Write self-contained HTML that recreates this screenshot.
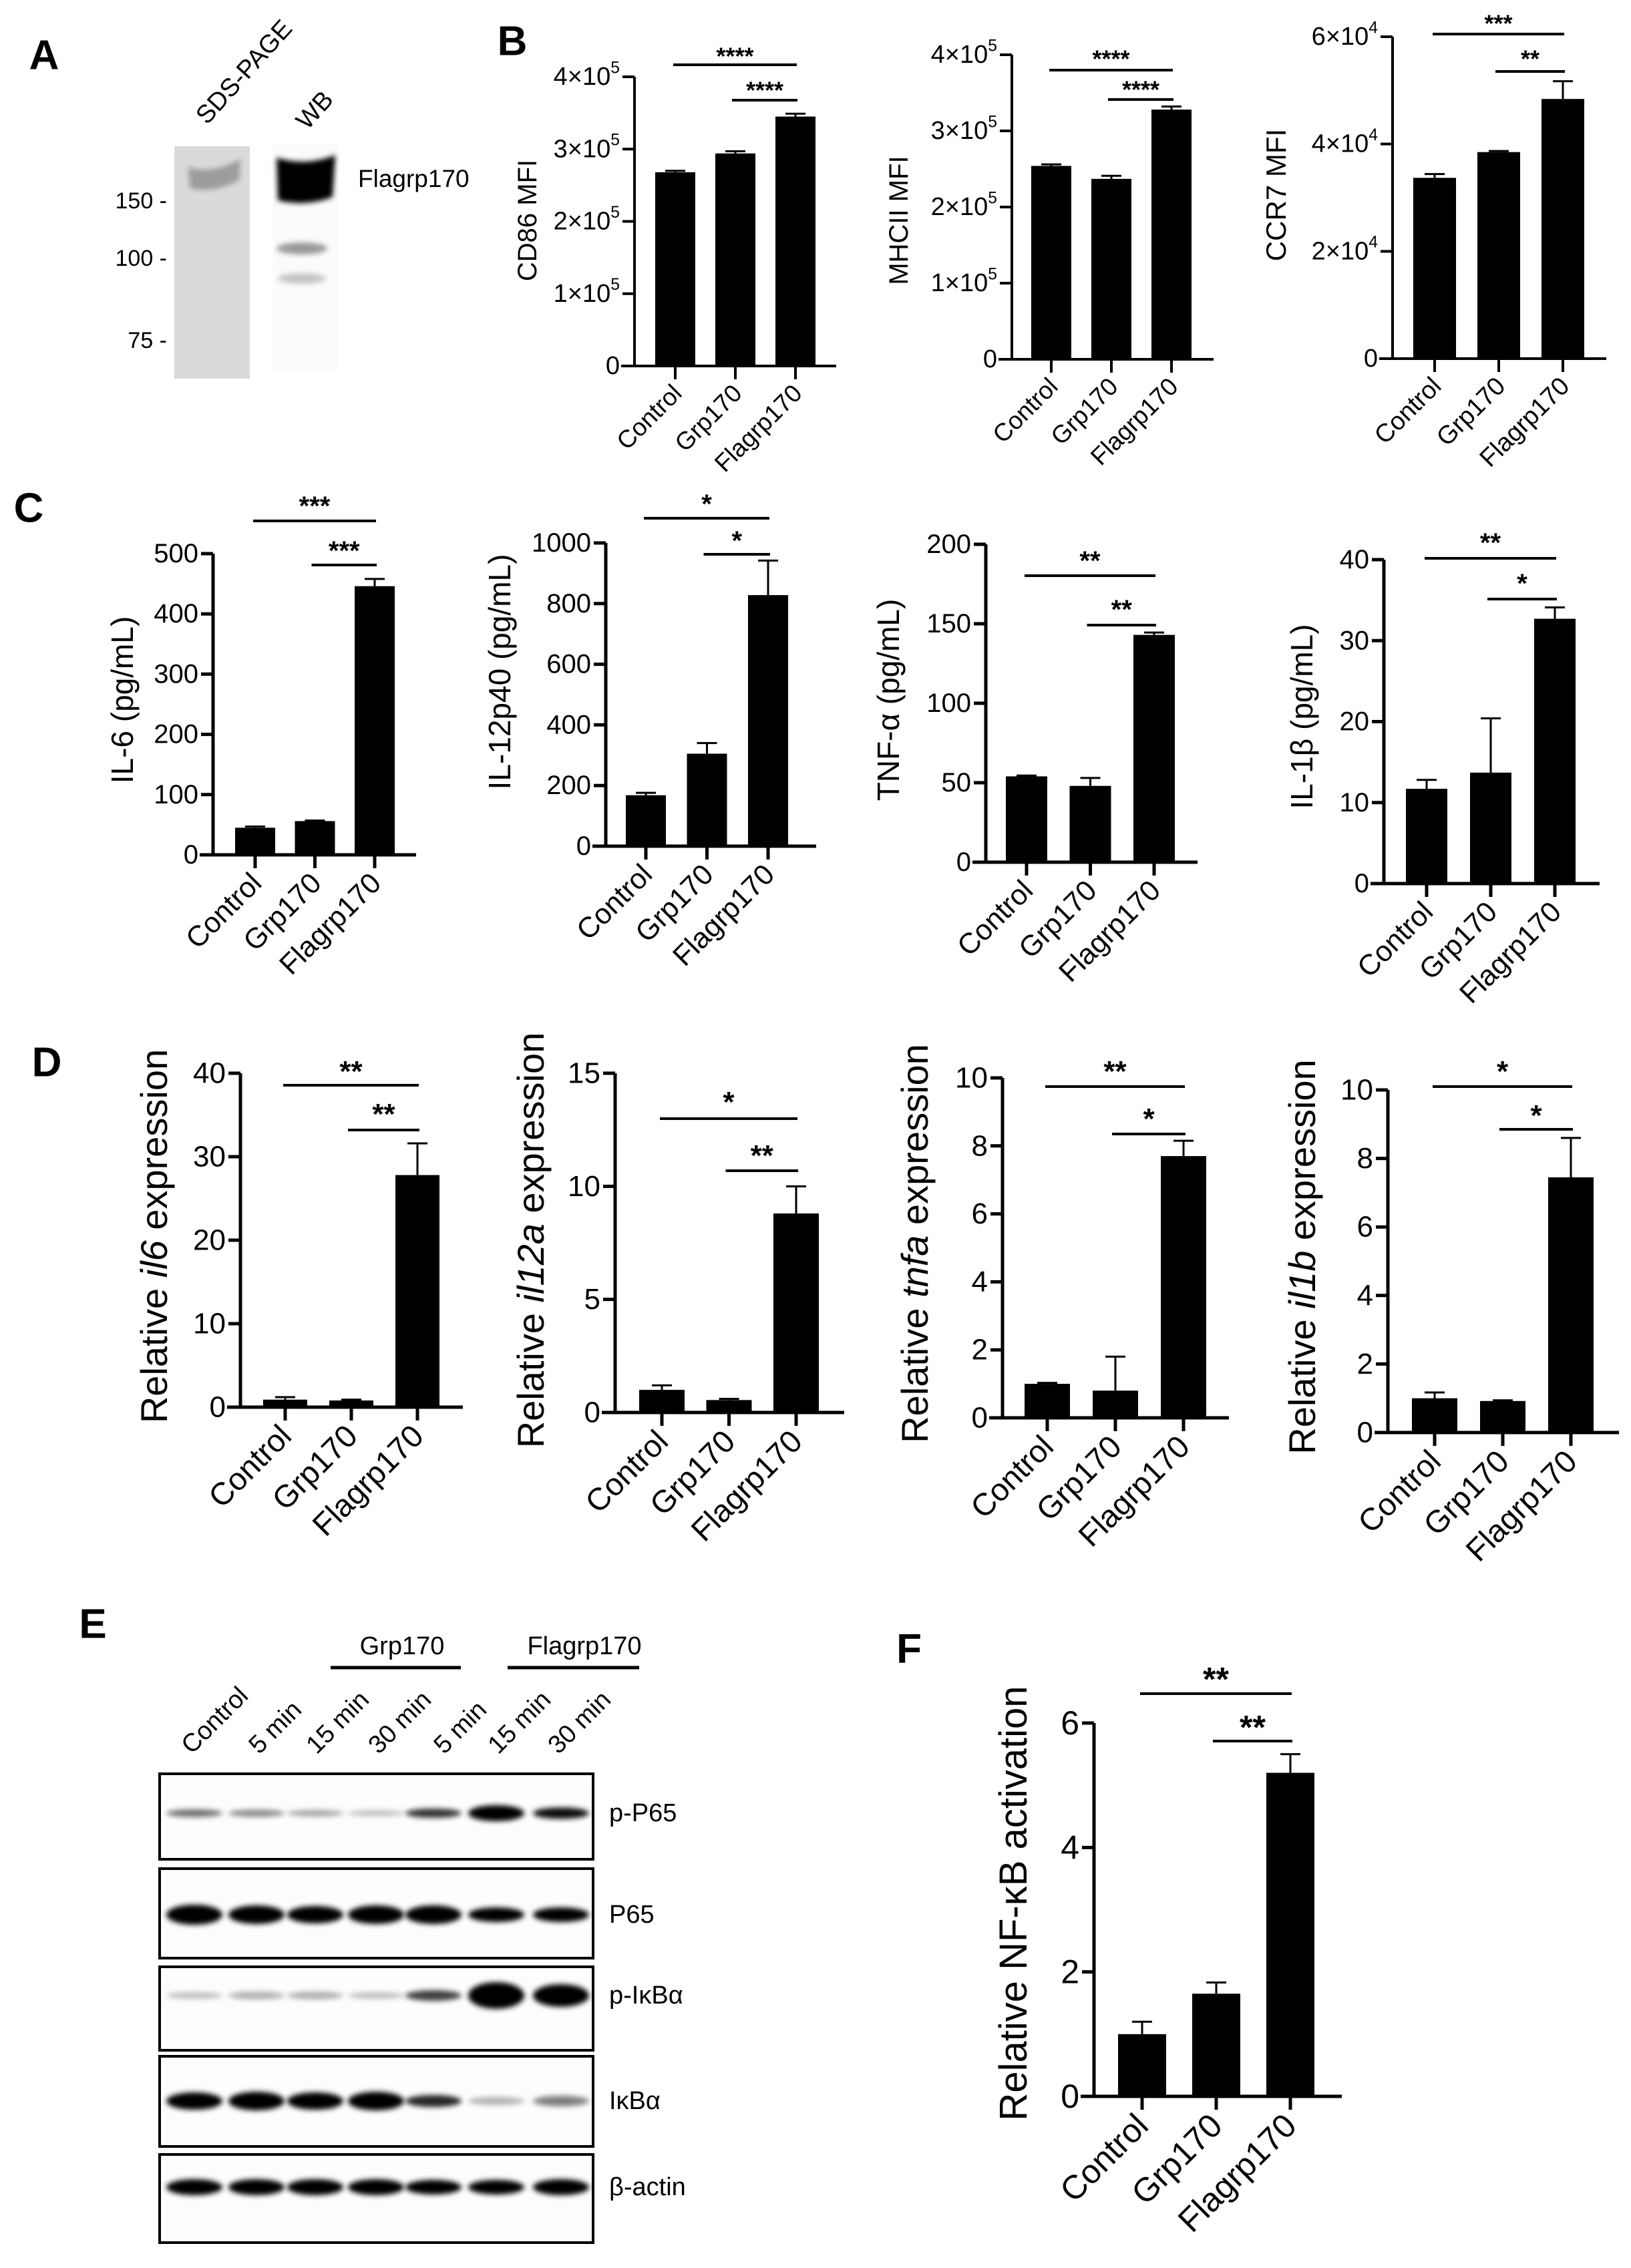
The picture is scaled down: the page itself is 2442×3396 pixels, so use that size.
<!DOCTYPE html>
<html><head><meta charset="utf-8">
<style>
html,body{margin:0;padding:0;background:#fff;}
svg{display:block;font-family:"Liberation Sans",Arial,sans-serif;}
</style></head>
<body>
<svg id="fig" xmlns="http://www.w3.org/2000/svg" width="2442" height="3396" viewBox="0 0 2442 3396">
<defs>
<filter id="blur4" x="-50%" y="-100%" width="200%" height="300%"><feGaussianBlur stdDeviation="4"/></filter>
<filter id="blur8" x="-50%" y="-100%" width="200%" height="300%"><feGaussianBlur stdDeviation="8"/></filter>
</defs>
<rect width="2442" height="3396" fill="#fff"/>

<!-- Panel A -->
<g>
<text x="66" y="83" font-size="62" font-weight="bold" text-anchor="middle" dominant-baseline="central">A</text>
<text transform="translate(310,188) rotate(-48)" font-size="38">SDS-PAGE</text>
<text transform="translate(460,196) rotate(-48)" font-size="38">WB</text>
<rect x="261" y="219" width="113" height="348" fill="#dadada"/>
<path d="M282,250 Q318,262 360,238 L358,270 Q320,290 284,282 Z" fill="#9c9c9c" filter="url(#blur4)"/>
<rect x="409" y="215" width="97" height="340" fill="#fbfbfb"/>
<path d="M414,236 Q458,250 502,232 L498,295 Q458,310 416,300 Z" fill="#000" filter="url(#blur4)"/>
<ellipse cx="452" cy="372" rx="38" ry="9" fill="#999" filter="url(#blur4)"/>
<ellipse cx="452" cy="417" rx="36" ry="8" fill="#c4c4c4" filter="url(#blur4)"/>
<text x="536" y="280" font-size="37">Flagrp170</text>
<g font-size="34" text-anchor="end">
<text x="250" y="312">150 -</text>
<text x="250" y="398">100 -</text>
<text x="250" y="521">75 -</text>
</g>
</g>

<text x="767" y="62" font-size="62" font-weight="bold" text-anchor="middle" dominant-baseline="central">B</text>
<text x="43" y="761" font-size="62" font-weight="bold" text-anchor="middle" dominant-baseline="central">C</text>
<text x="70" y="1591" font-size="62" font-weight="bold" text-anchor="middle" dominant-baseline="central">D</text>
<text x="139" y="2432" font-size="62" font-weight="bold" text-anchor="middle" dominant-baseline="central">E</text>
<text x="1361" y="2469" font-size="62" font-weight="bold" text-anchor="middle" dominant-baseline="central">F</text>

<g id="charts"></g>
<g id="blots"></g>
</svg>

<script>
const NS = "http://www.w3.org/2000/svg";
const categories = ["Control", "Grp170", "Flagrp170"];

// Panel B
const cd86Values = [268000, 294000, 345000];
const cd86Errors = [2000, 3000, 4000];
const cd86Ticks = [0, 1e5, 2e5, 3e5, 4e5];
const mhciiValues = [254000, 237000, 328000];
const mhciiErrors = [2000, 4000, 4000];
const mhciiTicks = [0, 1e5, 2e5, 3e5, 4e5];
const ccr7Values = [33700, 38500, 48400];
const ccr7Errors = [700, 200, 3300];
const ccr7Ticks = [0, 2e4, 4e4, 6e4];
// Panel C
const il6ProteinValues = [45, 56, 446];
const il6ProteinErrors = [2, 1, 12];
const il6ProteinTicks = [0, 100, 200, 300, 400, 500];
const il12ProteinValues = [168, 305, 828];
const il12ProteinErrors = [8, 35, 114];
const il12ProteinTicks = [0, 200, 400, 600, 800, 1000];
const tnfProteinValues = [54, 48, 143];
const tnfProteinErrors = [0.5, 5, 1.5];
const tnfProteinTicks = [0, 50, 100, 150, 200];
const il1bProteinValues = [11.7, 13.7, 32.7];
const il1bProteinErrors = [1.1, 6.7, 1.4];
const il1bProteinTicks = [0, 10, 20, 30, 40];
// Panel D
const il6MrnaValues = [0.9, 0.8, 27.8];
const il6MrnaErrors = [0.3, 0.1, 3.8];
const il6MrnaTicks = [0, 10, 20, 30, 40];
const il12aMrnaValues = [1.0, 0.55, 8.8];
const il12aMrnaErrors = [0.2, 0.05, 1.2];
const il12aMrnaTicks = [0, 5, 10, 15];
const tnfaMrnaValues = [1.0, 0.8, 7.7];
const tnfaMrnaErrors = [0.03, 1.0, 0.45];
const tnfaMrnaTicks = [0, 2, 4, 6, 8, 10];
const il1bMrnaValues = [1.0, 0.92, 7.45];
const il1bMrnaErrors = [0.17, 0.02, 1.15];
const il1bMrnaTicks = [0, 2, 4, 6, 8, 10];
// Panel F
const nfkbValues = [1.0, 1.65, 5.2];
const nfkbErrors = [0.2, 0.18, 0.3];
const nfkbTicks = [0, 2, 4, 6];

const charts = [
 {name:"cd86-mfi", values:cd86Values, errors:cd86Errors, ticks:cd86Ticks, sci:true, ax:950, y0:548, yTop:115, c0:1011, step:90, bw:60, xEnd:1252, tfs:38, lfs:40, cfs:37, sfs:36, label:["CD86 MFI"], lx:790, ly:330, sig:[[97,76,"****"],[150,127,"****"]], lw:4},
 {name:"mhcii-mfi", values:mhciiValues, errors:mhciiErrors, ticks:mhciiTicks, sci:true, ax:1515, y0:538, yTop:82, c0:1574, step:90, bw:60, xEnd:1817, tfs:38, lfs:40, cfs:37, sfs:36, label:["MHCII MFI"], lx:1346, ly:330, sig:[[105,80,"****"],[149,126,"****"]], lw:4},
 {name:"ccr7-mfi", values:ccr7Values, errors:ccr7Errors, ticks:ccr7Ticks, sci:true, ax:2085, y0:537, yTop:55, c0:2148, step:96, bw:64, xEnd:2405, tfs:38, lfs:42, cfs:38, sfs:36, label:["CCR7 MFI"], lx:1910, ly:292, sig:[[51,27,"***"],[107,80,"**"]], lw:4},
 {name:"il6-protein", values:il6ProteinValues, errors:il6ProteinErrors, ticks:il6ProteinTicks, ax:319, y0:1280, yTop:829, c0:382, step:89.5, bw:60, xEnd:623, tfs:40, lfs:46, cfs:43, sfs:40, label:["IL-6 (pg/mL)"], lx:183, ly:1048, sig:[[780,748,"***"],[846,815,"***"]], lw:5},
 {name:"il12p40-protein", values:il12ProteinValues, errors:il12ProteinErrors, ticks:il12ProteinTicks, ax:907, y0:1267, yTop:813, c0:967, step:91.5, bw:60, xEnd:1222, tfs:40, lfs:46, cfs:43, sfs:40, label:["IL-12p40 (pg/mL)"], lx:748, ly:1006, sig:[[776,745,"*"],[830,800,"*"]], lw:5},
 {name:"tnf-protein", values:tnfProteinValues, errors:tnfProteinErrors, ticks:tnfProteinTicks, ax:1476, y0:1291, yTop:815, c0:1537, step:95.5, bw:62, xEnd:1793, tfs:40, lfs:46, cfs:43, sfs:40, label:["TNF-α (pg/mL)"], lx:1330, ly:1048, sig:[[862,830,"**"],[936,903,"**"]], lw:5},
 {name:"il1b-protein", values:il1bProteinValues, errors:il1bProteinErrors, ticks:il1bProteinTicks, ax:2072, y0:1323, yTop:838, c0:2136, step:96, bw:62, xEnd:2395, tfs:40, lfs:46, cfs:43, sfs:40, label:["IL-1β (pg/mL)"], lx:1949, ly:1073, sig:[[836,803,"**"],[897,864,"*"]], lw:5},
 {name:"il6-mrna", values:il6MrnaValues, errors:il6MrnaErrors, ticks:il6MrnaTicks, ax:360, y0:2107, yTop:1607, c0:427, step:99, bw:66, xEnd:693, tfs:44, lfs:56, cfs:47, sfs:44, label:["Relative ","il6"," expression"], lx:230, ly:1851, sig:[[1625,1594,"**"],[1692,1658,"**"]], lw:5},
 {name:"il12a-mrna", values:il12aMrnaValues, errors:il12aMrnaErrors, ticks:il12aMrnaTicks, ax:921, y0:2115, yTop:1607, c0:991, step:100.5, bw:68, xEnd:1264, tfs:44, lfs:56, cfs:47, sfs:44, label:["Relative ","il12a"," expression"], lx:794, ly:1857, sig:[[1675,1640,"*"],[1753,1720,"**"]], lw:5},
 {name:"tnfa-mrna", values:tnfaMrnaValues, errors:tnfaMrnaErrors, ticks:tnfaMrnaTicks, ax:1501, y0:2123, yTop:1614, c0:1568, step:102, bw:68, xEnd:1840, tfs:44, lfs:56, cfs:47, sfs:44, label:["Relative ","tnfa"," expression"], lx:1369, ly:1862, sig:[[1627,1594,"**"],[1698,1665,"*"]], lw:5},
 {name:"il1b-mrna", values:il1bMrnaValues, errors:il1bMrnaErrors, ticks:il1bMrnaTicks, ax:2078, y0:2145, yTop:1632, c0:2148, step:102, bw:68, xEnd:2424, tfs:44, lfs:56, cfs:47, sfs:44, label:["Relative ","il1b"," expression"], lx:1949, ly:1882, sig:[[1627,1594,"*"],[1691,1660,"*"]], lw:5},
 {name:"nfkb-activation", values:nfkbValues, errors:nfkbErrors, ticks:nfkbTicks, ax:1638, y0:3139, yTop:2580, c0:1710, step:111, bw:72, xEnd:2009, tfs:50, lfs:58, cfs:50, sfs:50, label:["Relative NF-κB activation"], lx:1517, ly:2850, sig:[[2536,2503,"**"],[2607,2575,"**"]], lw:5}
];

function mk(tag, attrs, parent){
  const e = document.createElementNS(NS, tag);
  for (const k in attrs) e.setAttribute(k, attrs[k]);
  parent.appendChild(e);
  return e;
}
function sciLabel(el, v){
  if (v === 0){ el.textContent = "0"; return; }
  const exp = Math.floor(Math.log10(v));
  const m = Math.round(v / Math.pow(10, exp));
  el.textContent = m + "×10";
  const s = document.createElementNS(NS, "tspan");
  s.setAttribute("font-size", "0.65em");
  s.setAttribute("dy", "-0.55em");
  s.textContent = String(exp);
  el.appendChild(s);
}

const root = document.getElementById("charts");
charts.forEach(c => {
  const g = mk("g", {}, root);
  
  
  const max = c.ticks[c.ticks.length - 1];
  const yScale = v => c.y0 - (v / max) * (c.y0 - c.yTop);
  const xPos = i => c.c0 + i * c.step;

  c.values.forEach((v, i) => {
    const b = mk("rect", {x: xPos(i) - c.bw/2, y: yScale(v), width: c.bw, height: c.y0 - yScale(v), fill: "#000"}, g);
    
    
    const top = yScale(v + c.errors[i]);
    const e = mk("path", {d: `M${xPos(i)},${yScale(v)} V${top} M${xPos(i)-15},${top} H${xPos(i)+15}`, stroke: "#000", "stroke-width": 3, fill: "none"}, g);
    
    
  });

  const ya = mk("line", {x1: c.ax, y1: c.yTop, x2: c.ax, y2: c.y0, stroke: "#000", "stroke-width": c.lw}, g);
  
  
  const xa = mk("line", {x1: c.ax - 20, y1: c.y0, x2: c.xEnd, y2: c.y0, stroke: "#000", "stroke-width": c.lw}, g);
  
  

  c.ticks.forEach(t => {
    const y = yScale(t);
    mk("line", {x1: c.ax - 18, y1: y, x2: c.ax, y2: y, stroke: "#000", "stroke-width": c.lw}, g);
    const tx = mk("text", {x: c.ax - 22, y: y, "text-anchor": "end", "dominant-baseline": "central", "font-size": c.tfs}, g);
    
    
    if (c.sci) sciLabel(tx, t); else tx.textContent = String(t);
  });

  categories.forEach((cat, i) => {
    mk("line", {x1: xPos(i), y1: c.y0, x2: xPos(i), y2: c.y0 + 20, stroke: "#000", "stroke-width": c.lw}, g);
    const t = mk("text", {"text-anchor": "end", "font-size": c.cfs, transform: `translate(${xPos(i) + 12},${c.y0 + 32 + c.cfs*0.3}) rotate(-45)`}, g);
    
    
    t.textContent = cat;
  });

  const yl = mk("text", {"text-anchor": "middle", "dominant-baseline": "central", "font-size": c.lfs, transform: `translate(${c.lx},${c.ly}) rotate(-90)`}, g);
  
  
  c.label.forEach((part, k) => {
    const s = document.createElementNS(NS, "tspan");
    if (k === 1) s.setAttribute("font-style", "italic");
    s.textContent = part;
    yl.appendChild(s);
  });

  const spans = [[xPos(0) - 3, xPos(2) + 2], [xPos(1) - 5, xPos(2) + 3]];
  c.sig.forEach((s, k) => {
    const l = mk("line", {x1: spans[k][0], y1: s[0], x2: spans[k][1], y2: s[0], stroke: "#000", "stroke-width": 4}, g);
    
    
    const st = mk("text", {x: (spans[k][0] + spans[k][1]) / 2, y: s[1] + c.sfs * 0.57, "text-anchor": "middle", "font-size": c.sfs, "font-weight": "bold"}, g);
    
    
    st.textContent = s[2];
  });
});

// Panel E western blots
const laneLabels = ["Control", "5 min", "15 min", "30 min", "5 min", "15 min", "30 min"];
const blotNames = ["p-P65", "P65", "p-IκBα", "IκBα", "β-actin"];
const blotBoxes = [[2656, 2784], [2798, 2932], [2945, 3070], [3079, 3214], [3226, 3358]];
const bandY = [2715, 2867, 2988, 3146, 3275];
const bandThickness = [
  [8, 7, 6, 5, 10, 20, 13],
  [26, 24, 22, 24, 24, 18, 18],
  [6, 8, 8, 6, 12, 36, 30],
  [22, 24, 22, 24, 14, 8, 12],
  [20, 20, 20, 20, 18, 18, 20]
];
const bandDarkness = [
  [0.55, 0.45, 0.35, 0.25, 0.8, 1, 0.95],
  [1, 1, 1, 1, 1, 1, 1],
  [0.25, 0.3, 0.3, 0.25, 0.75, 1, 1],
  [1, 1, 1, 1, 0.85, 0.3, 0.5],
  [1, 1, 1, 1, 1, 1, 1]
];
const laneX = [291, 384, 472, 563, 649, 743, 840];
const blots = document.getElementById("blots");
blotNames.forEach((nm, r) => {
  const g = mk("g", {}, blots);
  
  
  mk("rect", {x: 239, y: blotBoxes[r][0], width: 649, height: blotBoxes[r][1] - blotBoxes[r][0], fill: "#fdfdfd", stroke: "#000", "stroke-width": 4}, g);
  laneX.forEach((x, i) => {
    const e = mk("ellipse", {cx: x, cy: bandY[r], rx: 42, ry: bandThickness[r][i] / 2 + 2, fill: "#000", "fill-opacity": bandDarkness[r][i], filter: "url(#blur4)"}, g);
    
    
  });
  const t = mk("text", {x: 912, y: bandY[r], "dominant-baseline": "central", "font-size": 38}, g);
  
  
  t.textContent = nm;
});
const laneStartX = [287, 388, 474, 567, 665, 746, 836];
laneLabels.forEach((l, i) => {
  const t = mk("text", {"font-size": 38, transform: `translate(${laneStartX[i]},2628) rotate(-45)`}, blots);
  
  
  t.textContent = l;
});
[["Grp170", 602, 495, 690], ["Flagrp170", 875, 760, 957]].forEach(h => {
  const t = mk("text", {x: h[1], y: 2477, "text-anchor": "middle", "font-size": 38}, blots);
  
  
  t.textContent = h[0];
  const l = mk("line", {x1: h[2], y1: 2497, x2: h[3], y2: 2497, stroke: "#000", "stroke-width": 5}, blots);
  
  
});
</script>
</body></html>
